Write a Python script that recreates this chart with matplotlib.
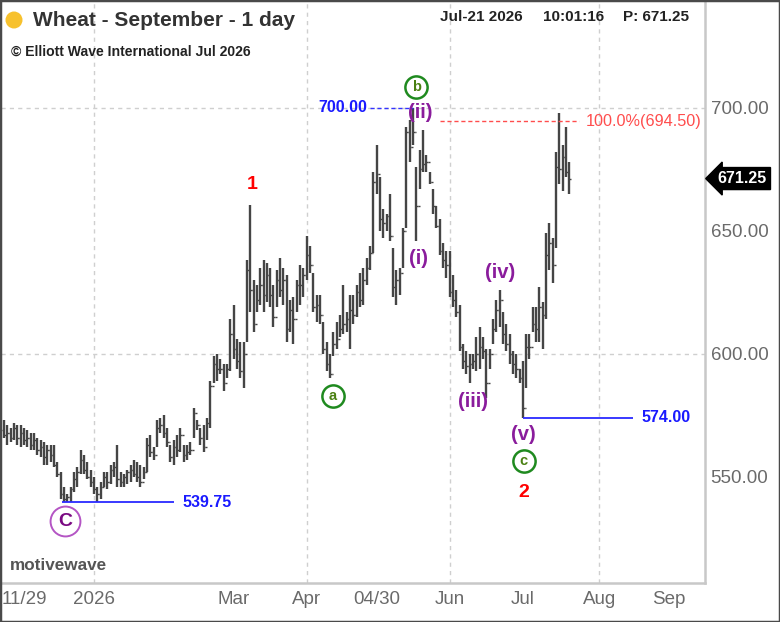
import matplotlib
matplotlib.use("Agg")
import matplotlib.pyplot as plt
from matplotlib.patches import Ellipse, Rectangle
import numpy as np
import pandas as pd

plt.rcParams["font.family"] = ["Liberation Sans", "DejaVu Sans"]

# daily OHLC bars (Nov 2025 -> Jul 21 2026)
highs = [573, 571, 570, 572, 571, 571, 570, 569, 568, 568,
         566, 565, 564, 563, 563, 563, 556, 552, 546, 543,
         546, 552, 554, 561, 559, 556, 553, 550, 546, 548,
         552, 552, 555, 556, 563, 552, 551, 553, 555, 557,
         556, 555, 554, 566, 567, 562, 573, 574, 575, 570,
         563, 565, 567, 570, 563, 563, 564, 578, 573, 570,
         571, 574, 589, 599, 600, 598, 596, 596, 614, 620,
         606, 605, 605, 638, 660.5, 630, 628, 635, 638, 637,
         635, 628, 634, 639, 635, 632, 622, 623, 630, 636,
         635, 648, 644, 633, 624, 624, 613, 605, 600, 609,
         613, 616, 628, 617, 624, 624, 628, 633, 635, 639,
         644, 674, 685, 672, 659, 657, 665, 643, 634, 635,
         651, 692, 695, 700, 676, 683, 691, 681, 674, 667,
         660, 655, 645, 642, 642, 632, 626, 620, 604, 601,
         600, 600, 607, 611, 607, 602, 602, 614, 622, 626,
         617, 612, 608, 601, 600, 594, 597, 608, 608, 619,
         619, 627, 621, 649, 653, 647, 682, 698, 685, 692,
         678]
lows = [566, 563, 564, 565, 563, 562, 563, 562, 561, 561,
        559, 558, 555, 555, 556, 554, 550, 541, 539.75, 540,
        540, 544, 546, 551, 551, 549, 546, 543, 540, 541,
        546, 545, 547, 550, 546, 546, 546, 547, 548, 550,
        548, 546, 549, 552, 558, 557, 562, 568, 566, 562,
        556, 555, 558, 560, 556, 557, 559, 566, 569, 563,
        560, 565, 570, 588, 589, 592, 585, 590, 593, 598,
        594, 590, 586, 605, 617, 609, 617, 620, 617, 621,
        619, 611, 619, 623, 620, 605, 609, 604, 617, 620,
        623, 630, 633, 617, 613, 612, 600, 593, 590, 599,
        602, 607, 608, 609, 602, 612, 615, 619, 620, 628,
        634, 641, 665, 650, 647, 650, 646, 623, 620, 624,
        635, 651, 678, 685, 646, 667, 674, 674, 669, 657,
        651, 640, 635, 631, 623, 619, 615, 601, 594, 592,
        588, 594, 593, 594, 598, 582, 594, 604, 609, 611,
        604, 601, 596, 592, 590, 588, 574, 586, 598, 609,
        605, 605, 602, 614, 634, 629, 643, 669, 666, 672,
        665]
opens = [569, 567, 568, 566, 570, 566, 568, 565, 566, 563,
         565, 561, 562, 558, 561, 559, 555, 551, 543, 541,
         542, 545, 549, 552, 557, 553, 550, 548, 545, 543,
         546, 550, 548, 553, 554, 549, 548, 550, 552, 553,
         551, 550, 548, 552, 563, 560, 559, 570, 571, 568,
         564, 558, 562, 561, 567, 559, 560, 561, 576, 571,
         566, 562, 572, 587, 596, 594, 594, 588, 594, 608,
         602, 597, 593, 600, 634, 626, 612, 622, 628, 624,
         632, 624, 615, 630, 626, 630, 610, 618, 614, 628,
         628, 632, 640, 636, 619, 620, 616, 602, 596, 592,
         604, 606, 610, 612, 614, 618, 616, 625, 622, 630,
         635, 641, 670, 673, 655, 653, 656, 648, 627, 630,
         633, 650, 690, 684, 690, 660, 675, 677, 678, 670,
         660, 652, 642, 638, 636, 625, 622, 617, 603, 597,
         595, 596, 597, 600, 603, 601, 588, 600, 610, 618,
         622, 608, 604, 600, 596, 594, 590, 578, 603, 603,
         612, 610, 619, 616, 640, 645, 636, 676, 675, 680,
         674]
closes = [567, 568, 566, 570, 566, 568, 565, 566, 563, 565,
          561, 562, 558, 561, 559, 555, 551, 543, 541, 542,
          545, 549, 552, 557, 553, 550, 548, 545, 543, 546,
          550, 548, 553, 554, 549, 548, 550, 552, 553, 551,
          550, 548, 552, 563, 560, 559, 570, 571, 568, 564,
          558, 562, 561, 567, 559, 560, 561, 576, 571, 566,
          562, 572, 587, 596, 594, 594, 588, 594, 608, 602,
          597, 593, 600, 634, 626, 612, 622, 628, 624, 632,
          624, 615, 630, 626, 630, 610, 618, 614, 628, 628,
          632, 640, 636, 619, 620, 616, 602, 596, 592, 604,
          606, 610, 612, 614, 618, 616, 625, 622, 630, 635,
          641, 670, 673, 655, 653, 656, 648, 627, 630, 633,
          650, 690, 684, 690, 660, 675, 677, 678, 670, 660,
          652, 642, 638, 636, 625, 622, 617, 603, 597, 595,
          596, 597, 600, 603, 601, 588, 600, 610, 618, 622,
          608, 604, 600, 596, 594, 590, 578, 603, 603, 612,
          610, 619, 616, 640, 645, 636, 676, 675, 680, 674,
          671.25]

last_date = "2026-07-21"
axis_end = "2026-09-30"
tick_dates = ["2025-12-03", "2026-01-01", "2026-03-02", "2026-04-01", "2026-04-30",
              "2026-06-01", "2026-07-01", "2026-08-03", "2026-09-01"]
tick_labels = ["11/29", "2026", "Mar", "Apr", "04/30", "Jun", "Jul", "Aug", "Sep"]
grid_labels = ["2026", "Apr", "Jun", "Aug"]
price_ticks = [550, 600, 650, 700]
grid_prices = [600, 700]

# wave labels: (text, bar index, price)
red_waves = [("1", 74.5, 669), ("2", 156.2, 543.8)]
purple_waves = [("(ii)", 125.2, 698), ("(i)", 124.6, 638.7), ("(iii)", 141.1, 580.7),
                ("(iv)", 149.2, 633), ("(v)", 156.2, 567.3)]
green_circles = [("a", 98.8, 582.8), ("b", 124.0, 708.5), ("c", 156.2, 556.4)]
purple_circle = ("C", 18.3, 532)

high_level = 700.00
fib_level = 694.50
low_c = 539.75
low_2 = 574.00

dates = pd.bdate_range(end=last_date, periods=len(highs))
calendar = pd.bdate_range(start=dates[0], end=axis_end)
tick_pos = [int(calendar.searchsorted(pd.Timestamp(d))) for d in tick_dates]

fig = plt.figure(figsize=(7.8, 6.22), dpi=100)
ax = fig.add_axes([0.0015, 0.0627, 0.9024, 0.9357])

x = np.arange(len(highs))
bar_col = "#454545"
ax.vlines(x, lows, highs, color=bar_col, lw=1.7, zorder=3)
ax.hlines(opens, x - 0.5, x, color=bar_col, lw=1.0, zorder=3)
ax.hlines(closes, x, x + 0.5, color=bar_col, lw=1.0, zorder=3)

# grid
for lab in grid_labels:
    ax.axvline(tick_pos[tick_labels.index(lab)], color="#cfcfcf", lw=1, ls=(0, (3, 3)), zorder=1)
for p in grid_prices:
    ax.axhline(p, color="#cfcfcf", lw=1, ls=(0, (3, 3)), zorder=1)

ax.set_xlim(-0.9, 210.8)
ax.set_ylim(506.9, 743.4)
ax.set_xticks(tick_pos)
ax.set_xticklabels(tick_labels)
ax.yaxis.tick_right()
ax.set_yticks(price_ticks)
ax.set_yticklabels([f"{p:.2f}" for p in price_ticks])
ax.tick_params(length=0, labelsize=13.5, labelcolor="#6a6a6a")
ax.tick_params(axis="y", pad=4)
ax.tick_params(axis="x", pad=6)
for s in ["left", "top"]:
    ax.spines[s].set_visible(False)
for s in ["right", "bottom"]:
    ax.spines[s].set_color("#c8c8c8")
    ax.spines[s].set_linewidth(1.8)

# support / resistance lines
i_c = int(np.argmin(lows[:60]))
ax.hlines(low_c, i_c - 0.5, i_c + 33, color="#2a2aff", lw=1.3, zorder=4)
ax.text(i_c + 35.5, low_c, f"{low_c:.2f}", color="#1a1aff", fontsize=11.5,
        fontweight="bold", va="center", ha="left")
i_2 = int(np.argmin(lows[140:])) + 140
ax.hlines(low_2, i_2, i_2 + 33, color="#2a2aff", lw=1.3, zorder=4)
ax.text(i_2 + 35.8, low_2, f"{low_2:.2f}", color="#1a1aff", fontsize=11.5,
        fontweight="bold", va="center", ha="left")
i_top = int(np.argmax(highs[:140]))
ax.hlines(high_level, i_top - 13, i_top, color="#3333ff", lw=1, ls=(0, (3, 2)), zorder=4)
ax.text(i_top - 13.8, high_level, f"{high_level:.2f}", color="#1a1aff", fontsize=11.5,
        fontweight="bold", va="center", ha="right")
ax.hlines(fib_level, i_top + 8, 173, color="#ff4d4d", lw=1, ls=(0, (3, 2)), zorder=4)
ax.text(174.8, fib_level, f"100.0%({fib_level:.2f})", color="#ff4d4d", fontsize=11.7,
        va="center", ha="left")

# wave labels
for t, xi, yp in red_waves:
    ax.text(xi, yp, t, color="#ff0000", fontsize=14, fontweight="bold", ha="center", va="center")
for t, xi, yp in purple_waves:
    ax.text(xi, yp, t, color="#8a1c9c", fontsize=14.5, fontweight="bold", ha="center", va="center")
for t, xi, yp in green_circles:
    ax.plot(xi, yp, "o", ms=16, mfc="white", mec="#1f8a1f", mew=1.8, zorder=5)
    ax.text(xi, yp, t, color="#4a8012", fontsize=10.5, fontweight="bold",
            ha="center", va="center", zorder=6)
t, xi, yp = purple_circle
ax.plot(xi, yp, "o", ms=21.5, mfc="white", mec="#b455c4", mew=1.4, zorder=5)
ax.text(xi, yp, t, color="#7a0a82", fontsize=14, fontweight="bold",
        ha="center", va="center", zorder=6)

# current price tag
ax.text(1.018, closes[-1], f"{closes[-1]:.2f}", transform=ax.get_yaxis_transform(),
        color="white", fontsize=11.5, fontweight="bold", va="center", ha="left",
        bbox=dict(boxstyle="larrow,pad=0.22", fc="black", ec="black"), clip_on=False)

# header texts
fig.add_artist(Ellipse((14 / 780, 1 - 20 / 622), 17 / 780, 17 / 622,
                       transform=fig.transFigure, fc="#f7c12d", ec="none"))
fig.text(33 / 780, 1 - 21 / 622, "Wheat - September - 1 day", fontsize=15,
         fontweight="bold", color="#333333", va="center", ha="left")
fig.text(11 / 780, 1 - 52 / 622, "© Elliott Wave International Jul 2026", fontsize=10.1,
         fontweight="bold", color="#222222", va="center", ha="left")
fig.text(440 / 780, 1 - 17 / 622, "Jul-21 2026", fontsize=11, fontweight="bold",
         color="#222222", va="center", ha="left")
fig.text(543 / 780, 1 - 17 / 622, "10:01:16", fontsize=11, fontweight="bold",
         color="#222222", va="center", ha="left")
fig.text(623 / 780, 1 - 17 / 622, f"P: {closes[-1]:.2f}", fontsize=11, fontweight="bold",
         color="#222222", va="center", ha="left")
fig.text(10 / 780, 1 - 566 / 622, "motivewave", fontsize=12.3, fontweight="bold",
         color="#555555", va="center", ha="left")

fig.add_artist(Rectangle((0, 0), 1, 1, transform=fig.transFigure, fill=False,
                         ec="#4a4a4a", lw=2.5))

fig.savefig("out.png", dpi=100)
